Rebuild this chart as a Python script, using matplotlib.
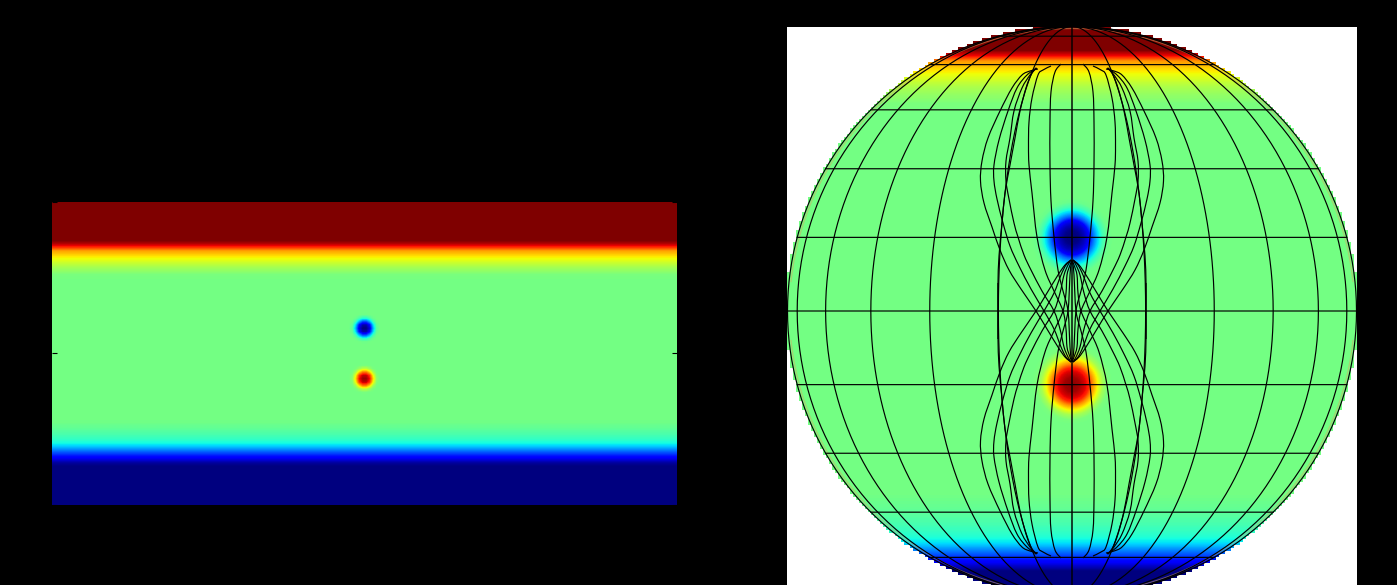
import numpy as np
import matplotlib
matplotlib.use('Agg')
import matplotlib.pyplot as plt
from matplotlib.path import Path
from matplotlib.patches import PathPatch

W = 1397
H = 585

# zonal jet, value on the 0..1 jet scale is base +/- these offsets
base = 0.49
north_lat = [0, 44, 47, 52, 57, 61.5, 63.5, 66.5, 90]
north_off = [0, 0, 0.01, 0.07, 0.16, 0.26, 0.40, 0.51, 0.51]
south_lat = [0, 40, 44, 48, 52, 54.4, 58, 62, 66, 90]
south_off = [0, 0, 0.02, 0.05, 0.09, 0.14, 0.26, 0.38, 0.49, 0.49]

# the two spots, radius in degrees against drop below the background
spot_lon = 180
spot_lat = 15
spot_r = [0, 1.5, 2.5, 3.5, 4.3, 5.4, 6.4, 7.5, 8.5, 180]
spot_drop = [0.5, 0.48, 0.44, 0.38, 0.27, 0.15, 0.06, 0.01, 0, 0]

# grid of the globe
grid_lon = [-90, -75, -60, -45, -30, -15, 0, 15, 30, 45, 60, 75, 90]
grid_lat = [-75, -60, -45, -30, -15, 0, 15, 30, 45, 60, 75]

# hourglass curves, offset from centre / height above equator (px)
curve_a_dx = [34, 42, 50, 60, 72, 84, 90, 91.5, 88, 80, 72, 63, 51, 36, 25, 14, 7, 1]
curve_a_y = [242, 240, 236, 223, 200, 173, 150, 130, 108, 84, 61, 41, 22, 0, -18, -36, -46, -51]
curve_b_dx = [35, 45, 55, 64, 73, 78, 78, 75, 69, 62, 53, 41, 28, 18, 11, 6, 1]
curve_b_y = [243, 236, 223, 200, 171, 146, 130, 112, 88, 65, 45, 22, 0, -18, -36, -46, -51]
curve_c_dx = [36, 42, 50, 58, 62, 66, 66, 63, 58, 54, 48, 41, 30, 18, 12, 8, 4, 1]
curve_c_y = [243, 236, 223, 200, 173, 150, 130, 112, 88, 74, 56, 41, 20, 0, -18, -36, -46, -51]
curve_d_dx = [36, 41, 46, 52, 57, 62, 67, 70, 73, 74, 74, 74]
curve_d_y = [243, 236, 223, 200, 173, 146, 118, 88, 55, 28, 0, -28]
curve_e_dx = [21, 29, 34, 40, 43, 43.5, 43, 40, 35, 27, 18, 9, 6, 5, 2, 0]
curve_e_y = [245, 241, 236, 213, 189, 165, 146, 118, 74, 41, 20, 0, -18, -36, -46, -51]
curve_f_dx = [11, 17, 21, 22, 22, 21, 18, 14, 9, 4, 2, 1, 0]
curve_f_y = [247, 239, 219, 189, 146, 110, 74, 41, 20, 0, -36, -46, -51]
curves = [(curve_a_dx, curve_a_y), (curve_b_dx, curve_b_y), (curve_c_dx, curve_c_y),
          (curve_d_dx, curve_d_y), (curve_e_dx, curve_e_y), (curve_f_dx, curve_f_y)]


def field(lon, lat):
    v = np.where(lat >= 0, base + np.interp(lat, north_lat, north_off),
                 base - np.interp(-lat, south_lat, south_off))
    # spots only matter close to their centre
    r1 = np.hypot(lon - spot_lon, lat - spot_lat)
    r2 = np.hypot(lon - spot_lon, lat + spot_lat)
    v = v - np.interp(r1, spot_r, spot_drop) + np.interp(r2, spot_r, spot_drop)
    return v


def smooth(px, py):
    # catmull-rom through the read points
    p = np.column_stack([px, py]).astype(float)
    verts = [p[0]]
    codes = [Path.MOVETO]
    for i in range(len(p) - 1):
        p0 = p[max(i - 1, 0)]
        p1 = p[i]
        p2 = p[i + 1]
        p3 = p[min(i + 2, len(p) - 1)]
        verts += [p1 + (p2 - p0) / 6, p2 - (p3 - p1) / 6, p2]
        codes += [Path.CURVE4] * 3
    return Path(verts, codes)


fig = plt.figure(figsize=(W / 100, H / 100), dpi=100, facecolor='black')

# left panel, plain lon/lat map, coarse cells so the spots blur like the source
ax1 = fig.add_axes([52 / W, (H - 505) / H, 625 / W, 303 / H])
lon1, lat1 = np.meshgrid(np.arange(1, 360, 2.0), np.arange(89, -90, -2.0))
ax1.imshow(field(lon1, lat1), cmap='jet', vmin=0, vmax=1, extent=[0, 360, -90, 90],
           aspect='auto', interpolation='bilinear')
ax1.set_xticks([])
ax1.set_yticks([-90, 0, 90])
ax1.tick_params(axis='y', direction='in', length=3.6, width=0.8, color='black',
                left=True, right=True, labelleft=False)
for s in ax1.spines.values():
    s.set_visible(False)

# right panel, orthographic view, units are px from the centre of the globe
cx = 1072
cy = 311
R = 284.5
ax2 = fig.add_axes([787 / W, 0, 570 / W, (H - 27) / H], facecolor='white')
x0 = 787 - cx
x1 = 1357 - cx
y0 = cy - H
y1 = cy - 27
xs = np.arange(x0, x1) + 0.5
ys = np.arange(y1, y0, -1) - 0.5
X, Y = np.meshgrid(xs, ys)
# coarse cells give the stepped rim
Xc = (np.floor(X / 3) + 0.5) * 3
Yc = (np.floor(Y / 3) + 0.5) * 3
outside = np.hypot(Xc, Yc) > R + 1.5
lat2 = np.arcsin(np.clip(Y / R, -1, 1))
coslat = np.maximum(np.cos(lat2), 1e-6)
lon2 = np.arcsin(np.clip(X / (R * coslat), -1, 1))
img = field(np.degrees(lon2) + spot_lon, np.degrees(lat2))
cmap = plt.get_cmap('jet').copy()
cmap.set_bad('white')
ax2.imshow(np.ma.masked_where(outside, img), cmap=cmap, vmin=0, vmax=1,
           extent=[x0, x1, y0, y1], aspect='auto', interpolation='nearest')

# tan fringe just inside the rim
lw = 0.85
t = np.radians(np.linspace(6, 174, 169))
for sign in (-1, 1):
    ax2.plot(R * 0.993 * np.cos(t), sign * R * 0.993 * np.sin(t), color='#d8a860', lw=0.9, alpha=0.5)

t = np.radians(np.linspace(-90, 90, 181))
for lon in grid_lon:
    if lon == 0:
        ax2.plot([0, 0], [-R, R], color='black', lw=1.4, alpha=0.75, snap=False)
    else:
        ax2.plot(R * np.cos(t) * np.sin(np.radians(lon)), R * np.sin(t), color='black', lw=lw)
for lat in grid_lat:
    half = R * np.cos(np.radians(lat))
    ax2.plot([-half, half], [R * np.sin(np.radians(lat))] * 2, color='black', lw=lw, snap=False)

for dx, yy in curves:
    for sx in (-1, 1):
        for sy in (-1, 1):
            ax2.add_patch(PathPatch(smooth(sx * np.array(dx), sy * np.array(yy)),
                                    fill=False, edgecolor='black', lw=lw))

ax2.set_xlim(x0, x1)
ax2.set_ylim(y0, y1)
ax2.axis('off')
ax2.patch.set_visible(True)

fig.savefig('out.png', dpi=100, facecolor='black')
